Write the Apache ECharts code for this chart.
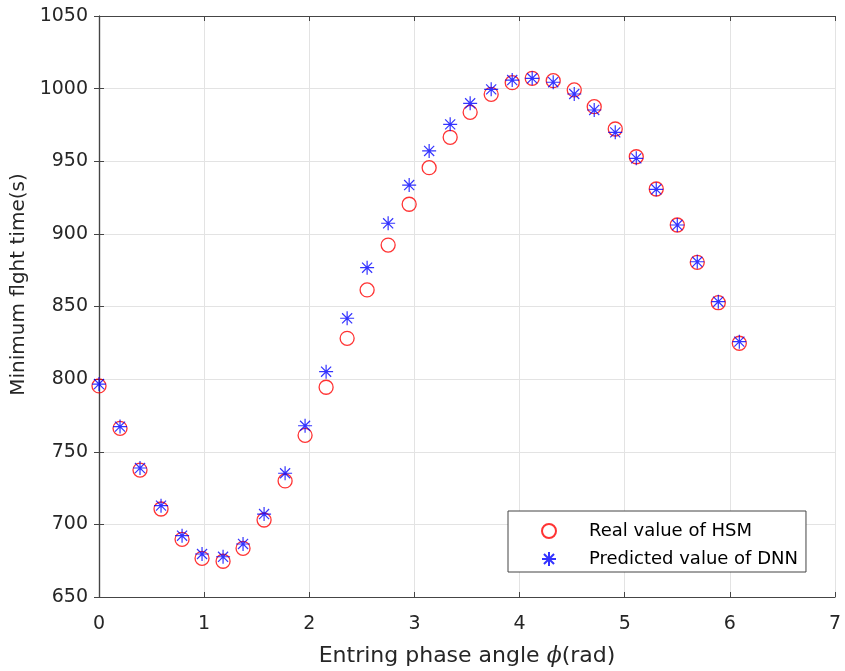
<!DOCTYPE html>
<html>
<head>
    <meta charset="utf-8">
    <title>Minimum flight time</title>
    <script src="https://cdn.jsdelivr.net/npm/echarts@6/dist/echarts.min.js"></script>
    <style>
        html, body { margin: 0; padding: 0; background: #fff; }
    </style>
</head>
<body>
    <div id="main" style="width: 845px; height: 671px;"></div>

    <script type="text/javascript">
        // phase angle (rad)
        var phase = [0, 0.20, 0.39, 0.59, 0.79, 0.98, 1.18, 1.37, 1.57, 1.77, 1.96, 2.16,
                     2.36, 2.55, 2.75, 2.95, 3.14, 3.34, 3.53, 3.73, 3.93, 4.12, 4.32, 4.52,
                     4.71, 4.91, 5.11, 5.30, 5.50, 5.69, 5.89, 6.09];
        // Real value of HSM
        var hsm = [795.3, 766.1, 737.4, 710.6, 689.7, 676.6, 674.6, 683.5, 703.0, 729.9, 761.3, 794.4,
                   828.1, 861.4, 892.3, 920.4, 945.6, 966.5, 983.7, 996.1, 1004.1, 1007.1, 1005.5, 999.1,
                   987.6, 972.2, 953.1, 930.9, 906.1, 880.4, 852.6, 824.7];
        // Predicted value of DNN
        var dnn = [796.6, 767.3, 738.8, 712.9, 692.2, 679.6, 677.7, 686.5, 707.1, 735.2, 767.9, 805.1,
                   841.9, 876.7, 907.3, 933.6, 957.1, 975.4, 989.9, 999.5, 1005.9, 1007.1, 1004.4, 996.3,
                   985.3, 969.9, 952.0, 930.7, 906.1, 880.8, 853.3, 825.8];

        var seriesNames = ['Real value of HSM', 'Predicted value of DNN'];

        var hsmData = [], dnnData = [];
        for (var i = 0; i < phase.length; i++) {
            hsmData.push([phase[i], hsm[i]]);
            dnnData.push([phase[i], dnn[i]]);
        }

        var axisColor = '#454545';
        var textColor = '#262626';
        var font = 'DejaVu Sans, sans-serif';
        // asterisk marker: + and x
        var starPath = 'path://M0,-1L0,1M-1,0L1,0M-0.72,-0.72L0.72,0.72M-0.72,0.72L0.72,-0.72';

        var myChart = echarts.init(document.getElementById('main'));

        var option = {
            animation: false,
            backgroundColor: '#fff',
            grid: { left: 99, right: 10, top: 16, bottom: 74, containLabel: false, outerBoundsMode: 'none' },
            legend: {
                data: seriesNames,
                orient: 'vertical',
                left: 508,
                top: 511,
                itemWidth: 14,
                itemHeight: 14,
                itemGap: 10,
                padding: [11, 8, 4, 33],
                backgroundColor: '#fff',
                borderColor: axisColor,
                borderWidth: 1,
                textStyle: { fontSize: 18, color: '#000', fontFamily: font, padding: [0, 0, 0, 28] }
            },
            xAxis: [{
                type: 'value',
                min: 0, max: 7, interval: 1,
                name: 'Entring phase angle {i|ϕ}(rad)',
                nameLocation: 'middle',
                nameGap: 48,
                nameTextStyle: {
                    fontSize: 22, color: textColor, fontFamily: font,
                    rich: { i: { fontSize: 22, fontStyle: 'italic', fontFamily: 'DejaVu Serif, serif', color: textColor } }
                },
                axisLine: { lineStyle: { color: axisColor, width: 1.2 } },
                axisTick: { inside: true, length: 5, lineStyle: { color: axisColor } },
                axisLabel: { fontSize: 19, color: textColor, fontFamily: font, margin: 18 },
                splitLine: { show: true, lineStyle: { color: '#e3e3e3', width: 1 } }
            }, {
                type: 'value',
                position: 'top',
                min: 0, max: 7, interval: 1,
                axisLine: { show: true, lineStyle: { color: axisColor, width: 1.2 } },
                axisTick: { show: true, inside: true, length: 5, lineStyle: { color: axisColor } },
                axisLabel: { show: false },
                splitLine: { show: false }
            }],
            yAxis: [{
                type: 'value',
                min: 650, max: 1050, interval: 50,
                name: 'Minimum flght time(s)',
                nameLocation: 'middle',
                nameGap: 68,
                nameTextStyle: { fontSize: 20, color: textColor, fontFamily: font, padding: [0, 0, 0, 44] },
                axisLine: { show: true, lineStyle: { color: axisColor, width: 1.2 } },
                axisTick: { show: true, inside: true, length: 5, lineStyle: { color: axisColor } },
                axisLabel: {
                    fontSize: 19, color: textColor, fontFamily: font, margin: 11,
                    formatter: function (v) { return String(v); }
                },
                splitLine: { show: true, lineStyle: { color: '#e3e3e3', width: 1 } }
            }, {
                type: 'value',
                position: 'right',
                min: 650, max: 1050, interval: 50,
                axisLine: { show: true, lineStyle: { color: axisColor, width: 1.2 } },
                axisTick: { show: true, inside: true, length: 5, lineStyle: { color: axisColor } },
                axisLabel: { show: false },
                splitLine: { show: false }
            }],
            series: [{
                name: seriesNames[0],
                type: 'scatter',
                symbol: 'circle',
                symbolSize: 14,
                itemStyle: { color: 'rgba(0,0,0,0)', borderColor: '#ff0000', borderWidth: 1.3 },
                data: hsmData
            }, {
                name: seriesNames[1],
                type: 'scatter',
                symbol: starPath,
                symbolSize: 14,
                itemStyle: { color: 'rgba(0,0,0,0)', borderColor: '#0000ff', borderWidth: 1.2 },
                data: dnnData
            }]
        };

        myChart.setOption(option);
    </script>
</body>
</html>
